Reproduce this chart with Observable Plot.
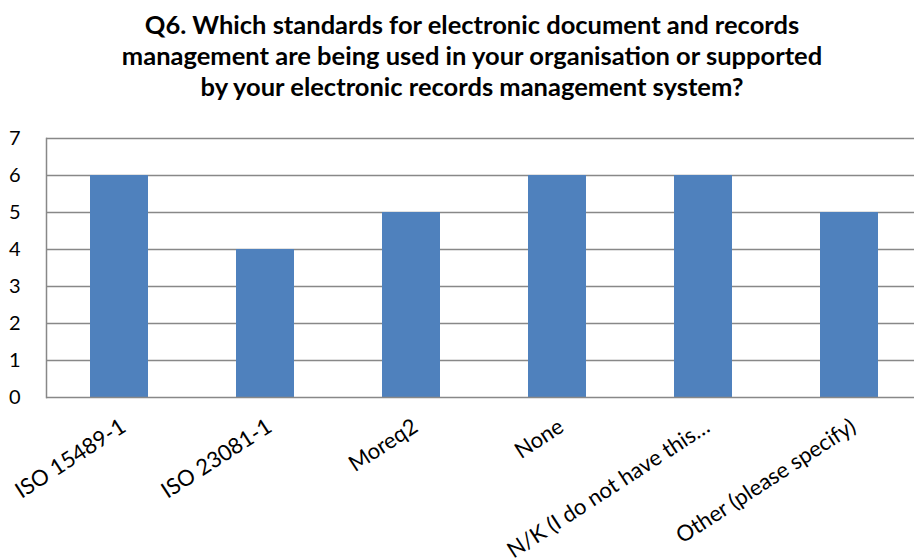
<!DOCTYPE html>
<html>
<head>
<meta charset="utf-8">
<script src="https://cdn.jsdelivr.net/npm/d3@7"></script>
<script src="https://cdn.jsdelivr.net/npm/@observablehq/plot@0.6"></script>
<style>
  html, body { margin: 0; padding: 0; background: #fff; overflow: hidden; }
  #title { width: 914px; box-sizing: border-box; padding: 9px 0 0 30px; height: 105px;
    font-family: Lato, "Open Sans", sans-serif; font-weight: bold; font-size: 25.5px; line-height: 31px;
    text-align: center; color: #000; }
  #chart svg g.yax text { font-size: 20px !important; }
  #chart svg g.xax text { font-size: 22px !important; }
</style>
</head>
<body>
<div id="title">Q6. Which standards for electronic document and records<br>management are being used in your organisation or supported<br>by your electronic records management system?</div>
<div id="chart"></div>
<script>
const categories = ["ISO 15489-1", "ISO 23081-1", "Moreq2", "None", "N/K (I do not have this…", "Other (please specify)"];
const values = [6, 4, 5, 6, 6, 5];
const yTicks = [0, 1, 2, 3, 4, 5, 6, 7];

const data = categories.map((c, i) => ({category: c, value: values[i]}));

const chart = Plot.plot({
  width: 914,
  height: 455,
  marginTop: 33,
  marginBottom: 163,
  marginLeft: 46,
  marginRight: 0,
  style: {fontFamily: "Lato, 'Open Sans', sans-serif", fontSize: "20px", color: "#000", background: "#fff", overflow: "visible"},
  x: {domain: categories, range: [46, 922], paddingInner: 0.6, paddingOuter: 0.3},
  y: {domain: [0, 7], ticks: yTicks},
  marks: [
    Plot.ruleY(yTicks.filter(d => d > 0), {stroke: "#888", strokeWidth: 1.3, strokeOpacity: 1}),
    Plot.barY(data, {x: "category", y: "value", fill: "#4F81BD"}),
    Plot.ruleY([0], {stroke: "#888", strokeWidth: 1.5}),
    Plot.frame({anchor: "left", stroke: "#888", strokeWidth: 1.5}),
    Plot.axisY({ticks: yTicks, tickFormat: d3.format("d"), tickSize: 0, tickPadding: 26, label: null, fontSize: 20, className: "yax"}),
    Plot.axisX({tickSize: 0, tickPadding: 27, tickRotate: -33, label: null, fontSize: 22, dx: 4, className: "xax"})
  ]
});
document.getElementById("chart").appendChild(chart);
</script>
</body>
</html>
